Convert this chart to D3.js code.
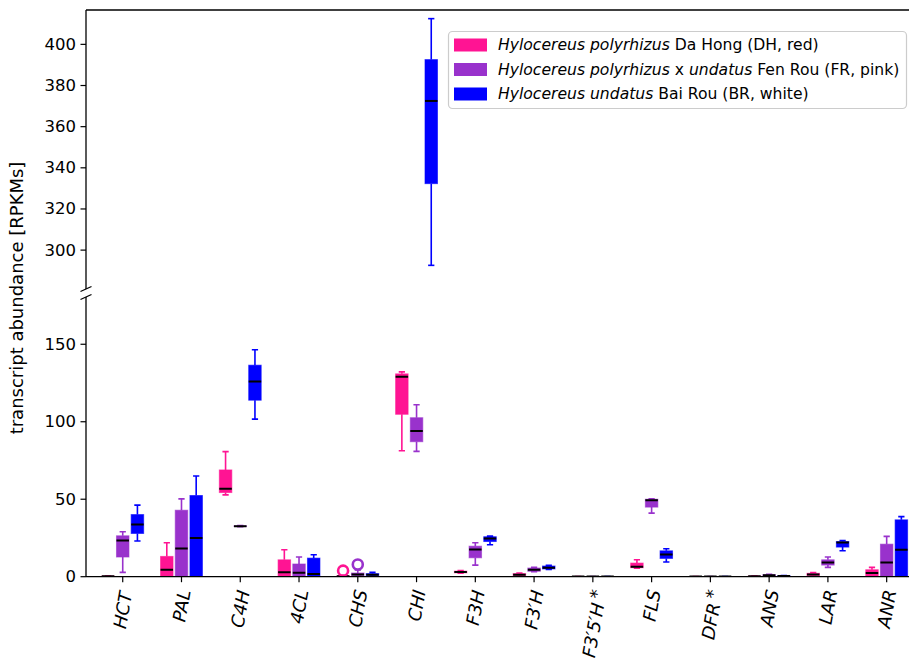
<!DOCTYPE html>
<html>
<head>
<meta charset="utf-8">
<script src="https://cdn.jsdelivr.net/npm/d3@7"></script>
<style>
  html, body { margin: 0; padding: 0; background: #fff; }
  svg { display: block; font-family: "DejaVu Sans", sans-serif; }
</style>
</head>
<body>
<svg id="chart" width="909" height="659"></svg>
<script>
// ---------------- data ----------------
const categories = ["HCT", "PAL", "C4H", "4CL", "CHS", "CHI", "F3H", "F3′H", "F3′5′H", "FLS", "DFR", "ANS", "LAR", "ANR"];
const starred = ["F3′5′H", "DFR"];

const seriesNames = ["DH", "FR", "BR"];
const seriesColors = ["#ff1493", "#9932cc", "#0000ff"];
const legendSpecies = [
  [["Hylocereus polyrhizus", true], [" Da Hong (DH, red)", false]],
  [["Hylocereus polyrhizus", true], [" x ", false], ["undatus", true], [" Fen Rou (FR, pink)", false]],
  [["Hylocereus undatus", true], [" Bai Rou (BR, white)", false]]
];

// five-number summaries per category: [whisker low, Q1, median, Q3, whisker high]
const statsDH = [
  [0.1, 0.2, 0.3, 0.4, 0.5],
  [0, 0.2, 4.5, 13.1, 21.9],
  [52.8, 54.3, 56.7, 68.9, 80.7],
  [0, 0.2, 2.8, 10.9, 17.4],
  [0, 0.1, 0.3, 0.6, 0.8],
  [81.3, 104.8, 129, 130.9, 132.2],
  [2.2, 2.5, 3.0, 3.6, 4.0],
  [0.5, 0.8, 1.3, 2.0, 2.4],
  [0, 0, 0.05, 0.1, 0.1],
  [5.5, 5.8, 6.4, 8.8, 10.9],
  [0, 0, 0.05, 0.1, 0.1],
  [0.1, 0.2, 0.3, 0.4, 0.5],
  [0.5, 0.8, 1.5, 2.2, 2.6],
  [0, 0.3, 2.4, 4.5, 6.0]
];
const statsFR = [
  [2.8, 12.7, 23.4, 26.4, 29],
  [0, 0.2, 18.2, 42.9, 50.2],
  [32.2, 32.4, 32.6, 32.8, 33.0],
  [0, 0.3, 2.6, 8.2, 12.7],
  [0.5, 0.8, 1.5, 2.4, 4.3],
  [80.9, 87.1, 94, 102.6, 111],
  [7.5, 12.2, 17.6, 19.7, 21.9],
  [3.2, 3.5, 4.5, 5.6, 6.0],
  [0, 0, 0.05, 0.1, 0.1],
  [41, 44.9, 49.4, 50, 50.2],
  [0, 0, 0.05, 0.1, 0.1],
  [0.5, 0.7, 1.0, 1.3, 1.5],
  [6, 7.5, 9.2, 10.9, 12.7],
  [0, 0.3, 9.2, 21, 26]
];
const statsBR = [
  [23, 27.9, 33.7, 40.1, 46.2],
  [0, 0.2, 24.9, 52.4, 65],
  [101.7, 113.9, 126, 136.5, 146.5],
  [0, 0.2, 1.7, 12, 14.2],
  [0.3, 0.8, 1.3, 2.0, 2.8],
  [292.6, 332.3, 372.5, 392.6, 412.5],
  [20.6, 22.7, 24.7, 25.8, 26.2],
  [4.6, 5.0, 5.8, 6.9, 7.3],
  [0, 0, 0.05, 0.1, 0.1],
  [9.5, 11.8, 14.4, 16.7, 18],
  [0, 0, 0.05, 0.1, 0.1],
  [0.2, 0.3, 0.5, 0.6, 0.7],
  [16.7, 19.1, 22.1, 22.7, 23.4],
  [0, 0.3, 17.4, 36.7, 38.8]
];
// outliers: [category, value]
const fliersDH = [["CHS", 3.9]];
const fliersFR = [["CHS", 7.9]];
const fliersBR = [];

const topTicks = [300, 320, 340, 360, 380, 400];
const bottomTicks = [0, 50, 100, 150];

// ---------------- layout ----------------
const svg = d3.select("#chart");
const left = 86, rightFull = 923.4;
const topY0 = 10, topY1 = 289;     // upper panel
const botY0 = 297, botY1 = 576.7;  // lower panel

const x = d3.scaleLinear().domain([-0.625, categories.length - 1 + 0.625]).range([left, rightFull]);
const yTop = d3.scaleLinear().domain([281.1, 416.7]).range([topY1, topY0]);
const yBot = d3.scaleLinear().domain([0, 180.5]).range([botY1, botY0]);

const offsets = [-0.25, 0, 0.25];
const boxW = 12.5;

const defs = svg.append("defs");
defs.append("clipPath").attr("id", "clipTop").append("rect")
  .attr("x", left).attr("y", topY0).attr("width", rightFull - left).attr("height", topY1 - topY0);
defs.append("clipPath").attr("id", "clipBot").append("rect")
  .attr("x", left).attr("y", botY0 - 2).attr("width", rightFull - left).attr("height", botY1 - botY0 + 2);

const allStats = [statsDH, statsFR, statsBR];
const allFliers = [fliersDH, fliersFR, fliersBR];

function drawPanel(y, clipId) {
  const g = svg.append("g").attr("clip-path", `url(#${clipId})`);
  allStats.forEach((stats, si) => {
    const col = seriesColors[si];
    const sg = g.append("g");
    stats.forEach((s, ci) => {
      const cx = x(ci + offsets[si]);
      const [lo, q1, med, q3, hi] = s;
      sg.append("line").attr("x1", cx).attr("x2", cx).attr("y1", y(q3)).attr("y2", y(hi))
        .attr("stroke", col).attr("stroke-width", 1.6);
      sg.append("line").attr("x1", cx).attr("x2", cx).attr("y1", y(lo)).attr("y2", y(q1))
        .attr("stroke", col).attr("stroke-width", 1.6);
      [lo, hi].forEach(v => {
        sg.append("line").attr("x1", cx - boxW / 4).attr("x2", cx + boxW / 4)
          .attr("y1", y(v)).attr("y2", y(v)).attr("stroke", col).attr("stroke-width", 1.6);
      });
      sg.append("rect").attr("x", cx - boxW / 2).attr("width", boxW)
        .attr("y", y(q3)).attr("height", Math.max(0, y(q1) - y(q3)))
        .attr("fill", col).attr("stroke", col).attr("stroke-opacity", 0.6).attr("stroke-width", 1);
      sg.append("line").attr("x1", cx - boxW / 2).attr("x2", cx + boxW / 2)
        .attr("y1", y(med)).attr("y2", y(med)).attr("stroke", "#000").attr("stroke-width", 2);
    });
    allFliers[si].forEach(([cat, v]) => {
      const ci = categories.indexOf(cat);
      sg.append("circle").attr("cx", x(ci + offsets[si])).attr("cy", y(v)).attr("r", 5)
        .attr("fill", "none").attr("stroke", col).attr("stroke-width", 2.6);
    });
  });
}
drawPanel(yTop, "clipTop");
drawPanel(yBot, "clipBot");

// ---------------- axes ----------------
const axisCol = "#000";
svg.append("line").attr("x1", left).attr("x2", 909).attr("y1", topY0).attr("y2", topY0).attr("stroke", axisCol).attr("stroke-width", 1.3);
svg.append("line").attr("x1", left).attr("x2", left).attr("y1", topY0).attr("y2", topY1).attr("stroke", axisCol).attr("stroke-width", 1.3);
svg.append("line").attr("x1", left).attr("x2", left).attr("y1", botY0).attr("y2", botY1).attr("stroke", axisCol).attr("stroke-width", 1.3);
svg.append("line").attr("x1", left).attr("x2", 909).attr("y1", botY1).attr("y2", botY1).attr("stroke", axisCol).attr("stroke-width", 1.3);
[topY1, botY0].forEach(yy => {
  svg.append("line").attr("x1", left - 5.5).attr("x2", left + 5.5).attr("y1", yy + 2.5).attr("y2", yy - 2.5)
    .attr("stroke", axisCol).attr("stroke-width", 1.3);
});

function yTicks(scale, ticks) {
  ticks.forEach(t => {
    const yy = scale(t);
    svg.append("line").attr("x1", left - 5.5).attr("x2", left).attr("y1", yy).attr("y2", yy).attr("stroke", axisCol).attr("stroke-width", 1.2);
    svg.append("text").attr("x", left - 10).attr("y", yy).attr("text-anchor", "end")
      .attr("dominant-baseline", "central").attr("font-size", 16.5).attr("fill", "#000").text(t);
  });
}
yTicks(yTop, topTicks);
yTicks(yBot, bottomTicks);

categories.forEach((c, i) => {
  const xx = x(i);
  svg.append("line").attr("x1", xx).attr("x2", xx).attr("y1", botY1).attr("y2", botY1 + 5.5).attr("stroke", axisCol).attr("stroke-width", 1.2);
  const g = svg.append("g");
  const t = g.append("text").attr("text-anchor", "end").attr("font-size", 18).attr("transform", "rotate(-80)");
  t.append("tspan").attr("font-style", "italic").text(c);
  if (starred.includes(c)) t.append("tspan").attr("dx", 4).attr("dy", -3).text("*");
  const bb = g.node().getBoundingClientRect();
  const dx = xx - (bb.left + bb.right) / 2;
  const dy = 588 - bb.top;
  g.attr("transform", `translate(${dx},${dy})`);
});

svg.append("text").attr("transform", `translate(23,298) rotate(-90)`)
  .attr("text-anchor", "middle").attr("font-size", 18).attr("fill", "#000")
  .text("transcript abundance [RPKMs]");

// ---------------- legend ----------------
const lg = svg.append("g");
lg.append("rect").attr("x", 448.5).attr("y", 31.5).attr("width", 458).attr("height", 77).attr("rx", 4)
  .attr("fill", "#fff").attr("fill-opacity", 0.85).attr("stroke", "#cccccc").attr("stroke-width", 1.2);
legendSpecies.forEach((parts, i) => {
  const cy = 45 + i * 24.5;
  lg.append("rect").attr("x", 454).attr("y", cy - 6.5).attr("width", 33).attr("height", 13).attr("fill", seriesColors[i]);
  const t = lg.append("text").attr("x", 498).attr("y", cy).attr("dominant-baseline", "central").attr("font-size", 15.6).attr("fill", "#000");
  parts.forEach(([txt, it]) => {
    t.append("tspan").attr("font-style", it ? "italic" : "normal").text(txt);
  });
});
</script>
</body>
</html>
